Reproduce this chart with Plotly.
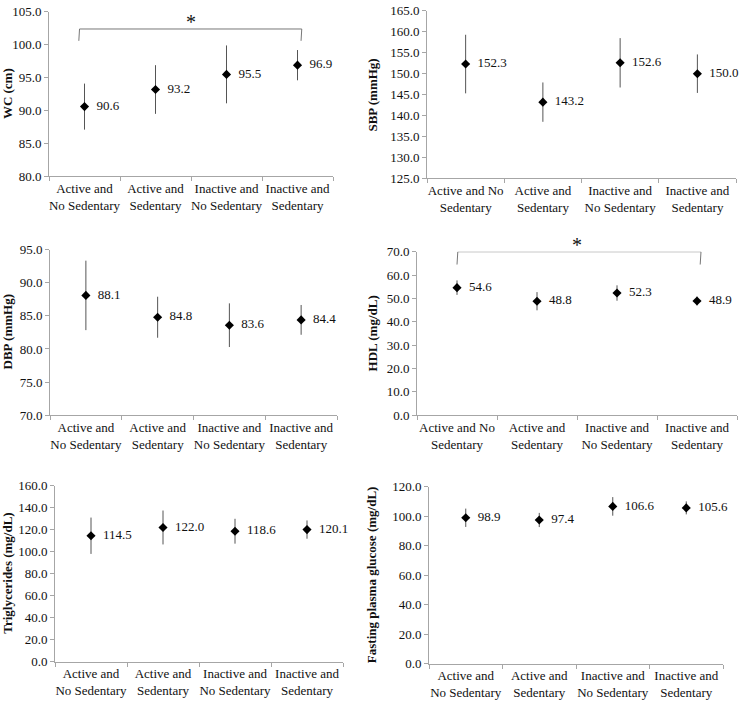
import plotly.graph_objects as go

W, H = 740, 708

cats = ["A_NS", "A_S", "I_NS", "I_S"]
labels_a = ["Active and<br>No Sedentary", "Active and<br>Sedentary",
            "Inactive and<br>No Sedentary", "Inactive and<br>Sedentary"]
labels_b = ["Active and No<br>Sedentary", "Active and<br>Sedentary",
            "Inactive and<br>No Sedentary", "Inactive and<br>Sedentary"]

wc_mean = [90.6, 93.2, 95.5, 96.9]
wc_err = [3.5, 3.7, 4.4, 2.3]
sbp_mean = [152.3, 143.2, 152.6, 150.0]
sbp_err = [7.0, 4.7, 5.9, 4.6]
dbp_mean = [88.1, 84.8, 83.6, 84.4]
dbp_err = [5.25, 3.1, 3.3, 2.25]
hdl_mean = [54.6, 48.8, 52.3, 48.9]
hdl_err = [3.1, 3.9, 3.3, 1.9]
tg_mean = [114.5, 122.0, 118.6, 120.1]
tg_err = [16.5, 15.4, 11.3, 8.3]
fpg_mean = [98.9, 97.4, 106.6, 105.6]
fpg_err = [6.2, 4.8, 6.3, 4.4]

titles = ["WC (cm)", "SBP (mmHg)", "DBP (mmHg)", "HDL (mg/dL)",
          "Triglycerides (mg/dL)", "Fasting plasma glucose (mg/dL)"]
y_ranges = [(80, 105, 5), (125, 165, 5), (70, 95, 5), (0, 70, 10), (0, 160, 20), (0, 120, 20)]

# panel boxes in pixels: (left, right, top, bottom)
boxes = [(49, 333, 5, 173), (427, 736, 4, 175),
         (50, 337, 248, 417), (417, 737, 250, 417),
         (55, 343, 489, 669), (429, 723, 490, 671)]
title_x = [7, 373, 7, 372, 8, 371]

panels = [(wc_mean, wc_err, labels_a), (sbp_mean, sbp_err, labels_b),
          (dbp_mean, dbp_err, labels_a), (hdl_mean, hdl_err, labels_b),
          (tg_mean, tg_err, labels_a), (fpg_mean, fpg_err, labels_a)]

FONT = "Liberation Serif"
AX = "#a6a6a6"

fig = go.Figure()
layout = dict(width=W, height=H, margin=dict(l=0, r=0, t=0, b=0),
              paper_bgcolor="white", plot_bgcolor="white", showlegend=False,
              font=dict(family=FONT, size=13, color="#111"))
annotations = []
shapes = []

for i, ((mean, err, labs), (l, r, t, b), (y0, y1, dt)) in enumerate(zip(panels, boxes, y_ranges)):
    n = "" if i == 0 else str(i + 1)
    xa, ya = "x" + n, "y" + n
    fig.add_trace(go.Scatter(
        x=cats, y=mean, xaxis=xa, yaxis=ya, mode="markers+text",
        marker=dict(symbol="diamond", size=7, color="black"),
        text=[f"\u2002{v:.1f}" for v in mean], textposition="middle right",
        textfont=dict(family=FONT, size=13, color="#111"),
        error_y=dict(type="data", array=err, visible=True, color="#555",
                     thickness=1, width=0),
        cliponaxis=False, hoverinfo="skip"))
    layout["xaxis" + n] = dict(
        domain=[l / W, r / W], anchor=ya, type="category",
        categoryorder="array", categoryarray=cats,
        tickvals=cats, ticktext=labs, range=[-0.5, 3.5], tickangle=0,
        showline=True, linecolor=AX, linewidth=1,
        ticks="outside", tickson="boundaries", ticklen=4, tickcolor=AX,
        showgrid=False, zeroline=False,
        tickfont=dict(family=FONT, size=13, color="#111"))
    layout["yaxis" + n] = dict(
        domain=[1 - b / H, 1 - t / H], anchor=xa, range=[y0, y1],
        tick0=y0, dtick=dt, tickformat=".1f",
        showline=True, linecolor=AX, linewidth=1,
        ticks="outside", ticklen=4, tickcolor=AX,
        showgrid=False, zeroline=False,
        tickfont=dict(family=FONT, size=13, color="#111"))
    annotations.append(dict(
        text=f"<b>{titles[i]}</b>", xref="paper", yref="paper",
        x=title_x[i] / W, y=1 - (t + b) / 2 / H, textangle=-90,
        showarrow=False, xanchor="center", yanchor="middle",
        font=dict(family=FONT, size=13, color="#111")))

# significance brackets: (xref, yref, left, right, end y, bar y, star y in px from top)
brackets = [("x", "y", -0.08, 3.06, 100.6, 102.4, 15),
            ("x4", "y4", 0.0, 3.05, 64.5, 70.0, 243)]
for xr, yr, xl, xrt, ylow, yhigh, star_px in brackets:
    line = dict(color="#777", width=1)
    shapes.append(dict(type="line", xref=xr, yref=yr, x0=xl, x1=xl + 0.01, y0=ylow, y1=yhigh, line=line))
    shapes.append(dict(type="line", xref=xr, yref=yr, x0=xl + 0.01, x1=xrt, y0=yhigh, y1=yhigh, line=line))
    shapes.append(dict(type="line", xref=xr, yref=yr, x0=xrt, x1=xrt - 0.01, y0=yhigh, y1=ylow, line=line))
    annotations.append(dict(text="*", xref=xr, yref="paper", x=1.5, y=1 - star_px / H,
                            yanchor="middle", showarrow=False,
                            font=dict(family=FONT, size=20, color="#111")))

layout["annotations"] = annotations
layout["shapes"] = shapes
fig.update_layout(**layout)
fig.write_html("out.html", config={"displayModeBar": False},
               post_script="document.body.style.margin='0';document.body.style.overflow='hidden';")
